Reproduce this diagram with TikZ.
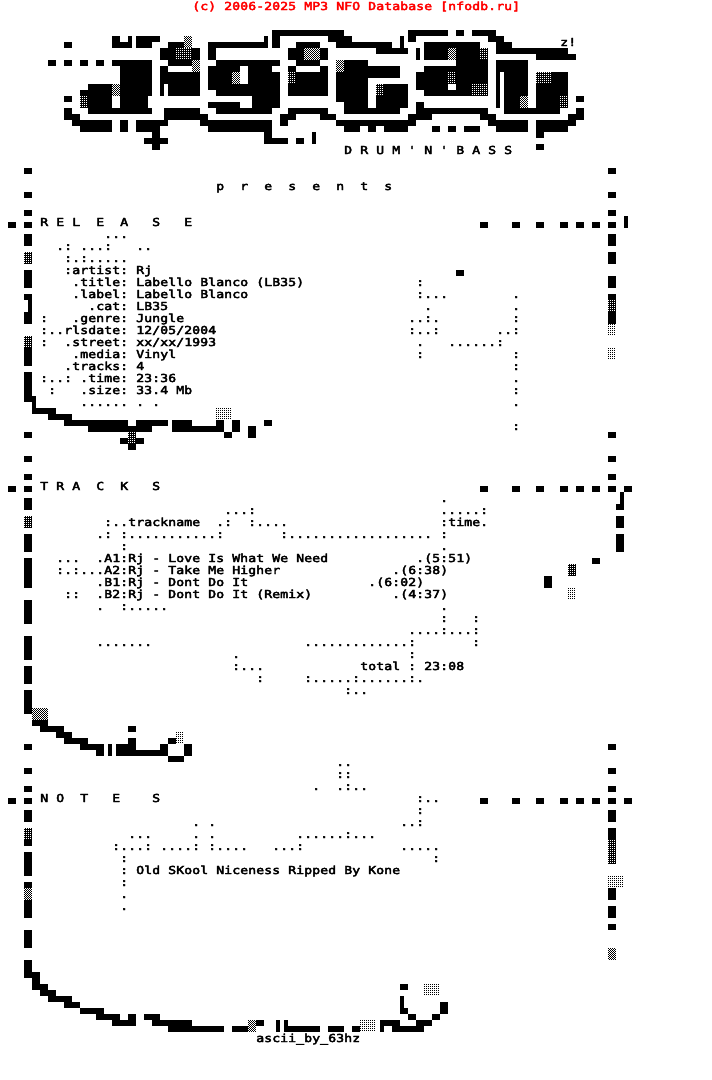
\documentclass[tikz,border=0pt]{standalone}
\usepackage{fontspec}
\newfontfamily\nfofont[FakeStretch=1.208,FakeBold=4]{DejaVu Sans Mono}
\tikzset{
  nfo/.style={anchor=base west,inner sep=0pt,font=\nfofont\fontsize{11pt}{12pt}\selectfont\frenchspacing},
  slab/.style={fill=black},
  dotline/.style={line width=1pt,dash pattern=on 1pt off 1pt},
  dotshift/.style={line width=1pt,dash pattern=on 1pt off 1pt,dash phase=1pt}
}
\newcommand{\txt}[3]{\node[nfo] at (#2,{2*#1+1.667}) {#3};}
% dithered cells: col, half line, width, height
\newcommand{\shadelight}[4]{
  \pgfmathtruncatemacro\lastpx{8*#3-2}
  \foreach \px in {0,2,...,\lastpx}
    \draw[dotline] ({#1+(\px+.5)/8},#2) -- ++(0,#4);
}
\newcommand{\shadedark}[4]{
  \fill[slab] (#1,#2) rectangle ++(#3,#4);
  \pgfmathtruncatemacro\lastpx{8*#3-2}
  \foreach \px in {0,2,...,\lastpx}
    \draw[dotline,white] ({#1+(\px+.5)/8},#2) -- ++(0,#4);
}
\newcommand{\shademid}[4]{
  \fill[white] (#1,#2) rectangle ++(#3,#4);
  \pgfmathtruncatemacro\lastpx{8*#3-2}
  \foreach \px in {0,2,...,\lastpx} {
    \draw[dotline] ({#1+(\px+.5)/8},#2) -- ++(0,#4);
    \draw[dotshift] ({#1+(\px+1.5)/8},#2) -- ++(0,#4);
  }
}
\begin{document}
\begin{tikzpicture}[x=8pt,y=-6pt]
\useasboundingbox (0,0) rectangle (89,180);

% logo, one half line at a time
\foreach \hh/\runs in {
  5/{34/9,51/5,57/1,59/3},
  6/{14/1,16/.5,17/3,33/.5,34/1,41/3,50/.5,51/1,61/2},
  7/{8/1,14/2.5,17/2,21/2,26/7.5,34/1,37/3,42/7,50/.5,53/7,62/2},
  8/{20/5,26/1,36/5,47/4,52/.5,53/8,62/9},
  9/{20/5,26/1,36/5,52/.5,53/8,67/5},
  10/{6/1,8/1,10/1,12/1,14/5,21/3,27/8,37/3,43/3,57/4,62/4},
  11/{15/4,20/1,26/4,31/3,36/1,40/1,43/7,53/8,62/4},
  12/{15/4,20/5,26/3,31/4,36/5,42/8,52/9,62/.5,63/3,67/4},
  13/{15/4,20/5,26/3,31/4,36/5,42/4,52/9,62/.5,63/3,67/4},
  14/{11/3,15/4,20/.5,21/4,26/9,36/5,42/4,47/4,52/4,57/4,62/.5,63/3,67/4},
  15/{10/4,15/4,20/.5,21/4,27/8,36/5,42/4,47/4,53/8,62/.5,63/3,67/4},
  16/{8/1,10/4,15/3.5,31.5/3.5,42/4,47/4,62/.5,63/3,67/4,72/1},
  17/{10/4,15/3.5,26/4,31.5/3.5,43/3,47/4,52/1,62/.5,63/3,67/4},
  18/{8/1,11/8,20.5/4.5,27/7,36/5,43/7,52/9,63/7,72/1},
  19/{8/2,20.5/5.5,35/2,40/2,51/3,60/2,71/2},
  20/{9/5,15/1,17/4,25/9,35/1,42/10,61/5,67/5},
  21/{10/4,15/1,17/3,26/8,43/2,46/1,48/3,54/1,56/1,58/2,62/4,67/4},
  22/{19/1,33/1,39/.5,67/1},
  23/{18/3,33/3,37/1,39/.5},
  24/{19/1,67/1}}
  \foreach \cc/\ww in \runs \fill[slab] (\cc,\hh) rectangle ++(\ww,1);

% frame and corner pieces
\foreach \cc/\rr/\ww/\dd in {
  3/28/1/1,3/32/1/1,3/35/1/1,3/37/1/1,1/37/1/1,3/39/1/2,3/45/1/3,3/49/1/1,3.5/50/.5/2,3/52/1/2,
  3/58/1/3,3/62/1/4,3/66/1.5/1,4/67/.5/1,4/68/3/1,6/69/3/1,8/70/8/1,17/70/4/1,11/71/8/1,
  15/73/3/1,16/74/1/1,21.5/70/2.5/2,24/71/3/1,27/70/1/2,28/72/1/1,29/70/1/2,31/71/1/2,33/70/1/1,
  3/72/1/1,3/76/1/1,57/45/1/1,
  76/28/1/1,76/32/1/1,76/35/1/1,78/36/.5/2,76/39/1/2,76/42/1/2,76/46/1/2,76/49/1/5,76/72/1/1,76/76/1/1,
  3/79/1/1,1/81/1/1,3/81/1/1,3/83/1/2,3/89/1/3,3/93/1/5,3/100/1/4,3/106/1/4,3/111/1/3,3/115/1/4,
  4/120/2/1,5/121/3/1,7/122/2/1,8/123/3/1,10/124/3/1,12/125/1/1,13.5/124/.5/2,14.5/124/2.5/1,14.5/125/6.5/1,
  16/123/1/1,16/121/1/1,20/124/1/1,21/123/1/1,23/124/1/2,21/126/2/1,3/124/1/1,
  76/79/1/1,78/81/1/1,76/81/1/1,77.5/82/.5/2,77/84/1/1,77/86/1/2,77/89/1/3,74/93/1/1,68/96/1/2,76/124/1/1,
  3/128/1/1,3/131/1/1,1/133/1/1,3/133/1/1,3/135/1/2,3/140/1/1,3/142/1/4,3/147/1/1,3/150/1/3,3/155/1/3,3/160/1/3,
  3/162/2/1,4/163/1/2,4/164/2/1,5/165/2/1,6/166/3/1,8/167/2/1,10/168/3/1,12/169/3/1,14/170/3/1,16/169/1/1,
  18/169/2/1,19/170/5/1,21/171/7/1,29/171/2/1,32/170/1/1,34.5/170/.5/2,35.5/170/.5/2,36/171/4/1,41/171/2/1,44/171/1/1,
  47.5/170/2.5/1,47.5/171/.5/1,49/171/4/1,52/170/2/1,54/169/1/1,55/167/1/2,
  50/164/1/1,50/166/.5/2,50/168/1/1,51/169/1/1,
  76/128/1/1,76/131/1/1,76/133/1/1,78/133/1/1,76/135/1/2,76/138/1/2,76/148/1/2,76/151/1/2,76/154/1/1}
  \fill[slab] (\cc,\rr) rectangle ++(\ww,\dd);
\foreach \rr in {37,81,133}
  \foreach \cc in {60,64,67,70,72,74,76} \fill[slab] (\cc,\rr) rectangle ++(1,1);

% dithered cells
\foreach \cc/\rr/\ww in {23/6/1,24/10/1,29/12/1,14/14/1,38/8/2,42/10/1,56/8/1,65/16/1,4/118/2,76/158/1,3/148/1,31/170/1}
  {\shademid{\cc}{\rr}{\ww}{2}}
\foreach \cc/\rr/\ww in {22/8/2,36/12/1,10/16/1,47/14/1,60/8/1,56/12/1,59/14/2,67/12/2,70/16/1,
  3/42/1,3/56/1,76/50/1,3/86/1,71/94/1,3/138/1,76/140/1,76/142/1,16/72/1}
  {\shadedark{\cc}{\rr}{\ww}{2}}
\foreach \cc/\rr/\ww in {27/68/2,76/54/1,76/58/1,71/98/1,22/122/1,53/164/2,45/170/2,76/146/2}
  {\shadelight{\cc}{\rr}{\ww}{2}}

% text
\node[nfo,red] at (24,1.667) {(c) 2006-2025 MP3 NFO Database [nfodb.ru]};
\txt{3}{70}{z!}
\txt{12}{43}{D R U M ' N ' B A S S}
\txt{15}{27}{p~~r~~e~~s~~e~~n~~t~~s}
\txt{18}{5}{R E L~~E~~A~~~S~~~E}
\txt{19}{13}{...}
\txt{20}{7}{.:~...:~~~..}
\txt{21}{8}{:.:.....}
\txt{22}{8}{:artist: Rj}
\txt{23}{9}{.title: Labello Blanco (LB35)}
\txt{23}{52}{:}
\txt{24}{9}{.label: Labello Blanco}
\txt{24}{52}{:...}
\txt{24}{64}{.}
\txt{25}{11}{.cat: LB35}
\txt{25}{53}{.}
\txt{25}{64}{.}
\txt{26}{5}{:~~~.genre: Jungle}
\txt{26}{51}{..:.}
\txt{26}{64}{:}
\txt{27}{5}{:..rlsdate: 12/05/2004}
\txt{27}{51}{:..:}
\txt{27}{62}{..:}
\txt{28}{5}{:~~.street: xx/xx/1993}
\txt{28}{52}{.}
\txt{28}{56}{......:}
\txt{29}{9}{.media: Vinyl}
\txt{29}{52}{:}
\txt{29}{64}{:}
\txt{30}{8}{.tracks: 4}
\txt{30}{64}{:}
\txt{31}{5}{:..:~.time: 23:36}
\txt{31}{64}{.}
\txt{32}{6}{:~~~.size: 33.4 Mb}
\txt{32}{64}{:}
\txt{33}{10}{...... . .}
\txt{33}{64}{.}
\txt{35}{64}{:}

\txt{40}{5}{T R A~~C~~K~~~S}
\txt{41}{55}{.}
\txt{42}{28}{...:}
\txt{42}{55}{.....:}
\txt{43}{13}{:..trackname~~.:~~:....}
\txt{43}{55}{:time.}
\txt{44}{12}{.:~:...........:}
\txt{44}{35}{:..................}
\txt{44}{55}{:}
\txt{45}{15}{:}
\txt{45}{55}{.}
\txt{46}{7}{...~~.A1:Rj - Love Is What We Need}
\txt{46}{52}{.(5:51)}
\txt{47}{7}{:.:...A2:Rj - Take Me Higher}
\txt{47}{49}{.(6:38)}
\txt{48}{12}{.B1:Rj - Dont Do It}
\txt{48}{46}{.(6:02)}
\txt{49}{8}{::~~.B2:Rj - Dont Do It (Remix)}
\txt{49}{49}{.(4:37)}
\txt{50}{12}{.~~:.....}
\txt{50}{55}{.}
\txt{51}{55}{:~~~:}
\txt{52}{51}{....:...:}
\txt{53}{12}{.......}
\txt{53}{38}{.............:~~~~~~~:}
\txt{54}{29}{.}
\txt{54}{51}{:}
\txt{55}{29}{:...}
\txt{55}{45}{total : 23:08}
\txt{56}{32}{:}
\txt{56}{38}{:.....:......:.}
\txt{57}{43}{:..}

\txt{63}{42}{..}
\txt{64}{42}{::}
\txt{65}{39}{.~~.:..}
\txt{66}{5}{N O~~T~~~E~~~~S}
\txt{66}{52}{:..}
\txt{67}{52}{:}
\txt{68}{24}{.~.}
\txt{68}{50}{..:}
\txt{69}{16}{...}
\txt{69}{24}{.~.}
\txt{69}{37}{......:...}
\txt{70}{14}{:...:~....:~:....}
\txt{70}{34}{...:}
\txt{70}{50}{.....}
\txt{71}{15}{:}
\txt{71}{54}{:}
\txt{72}{15}{:~Old SKool Niceness Ripped By Kone}
\txt{73}{15}{:}
\txt{74}{15}{.}
\txt{75}{15}{.}
\txt{86}{32}{ascii\_by\_63hz}
\end{tikzpicture}
\end{document}
